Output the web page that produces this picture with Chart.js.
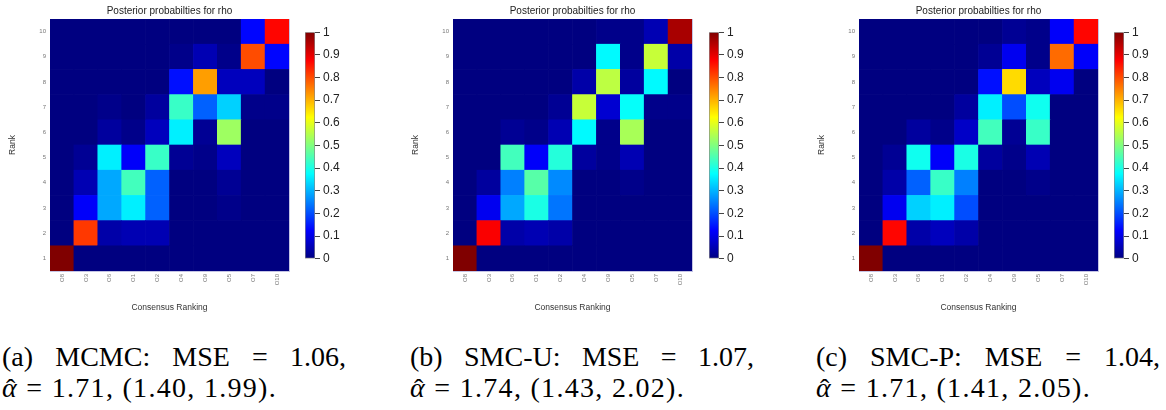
<!DOCTYPE html>
<html>
<head>
<meta charset="utf-8">
<script src="https://cdn.jsdelivr.net/npm/chart.js@4.4.1/dist/chart.umd.min.js"></script>
<style>
  body { margin: 0; background: #fff; width: 1166px; height: 410px; overflow: hidden; position: relative; }
  canvas { position: absolute; }
  .cap { position: absolute; top: 341px; width: 344px; font-family: 'Liberation Serif', serif; font-size: 28px; line-height: 31px; color: #000; }
  .cap .l1 { text-align: justify; text-align-last: justify; }
  .cap .l2 { white-space: nowrap; letter-spacing: 1.3px; }
  .ah { position: relative; display: inline-block; font-style: italic; }
  .ah .hat { position: absolute; left: 0.14em; top: 0.04em; font-style: normal; }
</style>
</head>
<body>
<script>
// ---- data ----
const cols = ['O8', 'O3', 'O6', 'O1', 'O2', 'O4', 'O9', 'O5', 'O7', 'O10'];
const rankTicks = [1, 2, 3, 4, 5, 6, 7, 8, 9, 10];
const cbTicks = [0, 0.1, 0.2, 0.3, 0.4, 0.5, 0.6, 0.7, 0.8, 0.9, 1];

// rows = rank 1..10, columns in the order of cols
const mcmc = [
  [1.00, 0, 0, 0, 0, 0, 0, 0, 0, 0],
  [0, 0.82, 0.04, 0.05, 0.05, 0, 0, 0, 0, 0],
  [0, 0.12, 0.29, 0.36, 0.22, 0, 0, 0.01, 0, 0],
  [0, 0.05, 0.29, 0.44, 0.22, 0, 0, 0.02, 0, 0],
  [0, 0.02, 0.36, 0.12, 0.43, 0.02, 0.01, 0.06, 0, 0],
  [0, 0, 0.03, 0.01, 0.06, 0.36, 0.02, 0.53, 0, 0],
  [0, 0, 0.01, 0, 0.03, 0.43, 0.22, 0.33, 0.01, 0.01],
  [0, 0, 0, 0, 0, 0.14, 0.72, 0.06, 0.06, 0],
  [0, 0, 0, 0, 0, 0.01, 0.05, 0.01, 0.80, 0.13],
  [0, 0, 0, 0, 0, 0, 0, 0, 0.13, 0.87]
];
const smcU = [
  [1.00, 0, 0, 0, 0, 0, 0, 0, 0, 0],
  [0, 0.88, 0.04, 0.05, 0.04, 0, 0, 0, 0, 0],
  [0, 0.11, 0.29, 0.40, 0.24, 0, 0, 0, 0, 0],
  [0, 0.03, 0.25, 0.46, 0.26, 0, 0, 0.01, 0, 0],
  [0, 0, 0.44, 0.12, 0.41, 0.03, 0.01, 0.05, 0, 0],
  [0, 0, 0.02, 0.01, 0.05, 0.37, 0.01, 0.54, 0, 0],
  [0, 0, 0, 0, 0.02, 0.57, 0.08, 0.38, 0.01, 0.01],
  [0, 0, 0, 0, 0, 0.04, 0.56, 0.03, 0.37, 0],
  [0, 0, 0, 0, 0, 0, 0.37, 0.01, 0.57, 0.04],
  [0, 0, 0, 0, 0, 0, 0.01, 0.01, 0.05, 0.96]
];
const smcP = [
  [1.00, 0, 0, 0, 0, 0, 0, 0, 0, 0],
  [0, 0.87, 0.04, 0.06, 0.04, 0, 0, 0, 0, 0],
  [0, 0.11, 0.33, 0.36, 0.20, 0, 0, 0, 0, 0],
  [0, 0.04, 0.22, 0.43, 0.25, 0, 0, 0.01, 0, 0],
  [0, 0.02, 0.39, 0.12, 0.40, 0.03, 0.01, 0.05, 0, 0],
  [0, 0, 0.03, 0.01, 0.07, 0.44, 0.02, 0.43, 0, 0],
  [0, 0, 0, 0, 0.03, 0.36, 0.20, 0.39, 0, 0],
  [0, 0, 0, 0, 0, 0.14, 0.66, 0.06, 0.11, 0],
  [0, 0, 0, 0, 0, 0.02, 0.11, 0.01, 0.77, 0.12],
  [0, 0, 0, 0, 0, 0, 0.02, 0.01, 0.12, 0.87]
];

const capLetters = ['a', 'b', 'c'];
const capMethods = ['MCMC', 'SMC-U', 'SMC-P'];
const capMse = ['1.06', '1.07', '1.04'];
const capAlpha = ['1.71', '1.74', '1.71'];
const capLow = ['1.40', '1.43', '1.41'];
const capHigh = ['1.99', '2.02', '2.05'];

// ---- layout ----
const plotLeft = [50, 453, 859];
const barLeft = [305, 709, 1114];
const capLeft = [2, 410, 816];
const PLOT_W = 239;
const frameCol = '#c4c4e4';

Chart.defaults.font.family = "'Liberation Sans', Arial, sans-serif";

function jet(v) {
  const c = x => Math.round(255 * Math.max(0, Math.min(1, x)));
  return `rgb(${c(1.5 - Math.abs(4 * v - 3))},${c(1.5 - Math.abs(4 * v - 2))},${c(1.5 - Math.abs(4 * v - 1))})`;
}

function jetGradient(chart) {
  const a = chart.chartArea;
  if (!a) return null;
  const g = chart.ctx.createLinearGradient(0, a.bottom, 0, a.top);
  for (let i = 0; i <= 8; i++) g.addColorStop(i / 8, jet(i / 8));
  return g;
}

function addCanvas(left, top, w, h) {
  const cv = document.createElement('canvas');
  cv.width = w; cv.height = h;
  cv.style.left = left + 'px'; cv.style.top = top + 'px';
  document.body.appendChild(cv);
  return cv;
}

function heatmap(cv, mat) {
  const datasets = rankTicks.map((r, i) => ({
    data: cols.map(() => [r - 0.5, r + 0.5]),
    backgroundColor: mat[i].map(jet),
    borderWidth: 0,
    grouped: false,
    barPercentage: 1,
    categoryPercentage: 1
  }));
  return new Chart(cv, {
    type: 'bar',
    data: { labels: cols, datasets },
    options: {
      responsive: false,
      animation: false,
      events: [],
      layout: { padding: { right: 8 } },
      plugins: {
        legend: { display: false },
        tooltip: { enabled: false },
        title: {
          display: true, text: 'Posterior probabilties for rho', fullSize: false,
          font: { size: 10, weight: 'normal' }, color: '#222', padding: { top: 5, bottom: 2 }
        }
      },
      scales: {
        x: {
          ticks: { font: { size: 6 }, color: '#777', minRotation: 90, maxRotation: 90, padding: 3, autoSkip: false },
          grid: { display: false, drawTicks: false },
          border: { color: frameCol },
          title: { display: true, text: 'Consensus Ranking', font: { size: 8.5 }, color: '#333', padding: { top: 0, bottom: 7 } },
          afterFit: s => { s.height = 49; }
        },
        y: {
          min: 0.5, max: 10.5,
          afterBuildTicks: s => { s.ticks = rankTicks.map(v => ({ value: v })); },
          ticks: { font: { size: 6 }, color: '#777', padding: 4 },
          grid: { display: false, drawTicks: false },
          border: { color: frameCol },
          title: { display: true, text: 'Rank', font: { size: 8.5 }, color: '#333', padding: { top: 8, bottom: 0 } },
          afterFit: s => { s.width = 50; }
        },
        x2: {
          type: 'category', labels: cols, position: 'top',
          ticks: { display: false }, grid: { display: false, drawTicks: false },
          border: { color: frameCol },
          afterFit: s => { s.height = 0; }
        },
        y2: {
          position: 'right', min: 0.5, max: 10.5,
          ticks: { display: false }, grid: { display: false, drawTicks: false },
          border: { color: frameCol },
          afterFit: s => { s.width = 0; }
        }
      }
    }
  });
}

function colorbar(cv) {
  return new Chart(cv, {
    type: 'bar',
    data: {
      labels: [''],
      datasets: [{
        data: [[0, 1]],
        backgroundColor: c => jetGradient(c.chart),
        borderWidth: 1, borderColor: '#888', borderSkipped: false,
        barPercentage: 1, categoryPercentage: 1
      }]
    },
    options: {
      responsive: false,
      animation: false,
      events: [],
      layout: { padding: { left: 10, top: 10, bottom: 10, right: 0 } },
      plugins: { legend: { display: false }, tooltip: { enabled: false } },
      scales: {
        x: { display: false },
        y: {
          position: 'right', min: 0, max: 1,
          afterBuildTicks: s => { s.ticks = cbTicks.map(v => ({ value: v })); },
          ticks: { font: { size: 12 }, color: '#222', padding: 3, callback: v => String(v) },
          grid: { drawOnChartArea: false, tickLength: 5, color: '#444' },
          border: { display: false },
          afterFit: s => { s.width = 60; }
        }
      }
    }
  });
}

const mats = [mcmc, smcU, smcP];
mats.forEach((m, i) => {
  heatmap(addCanvas(plotLeft[i] - 50, 0, 50 + PLOT_W + 8, 320), m);
  colorbar(addCanvas(barLeft[i] - 10, 22, 80, 247));

  const cap = document.createElement('div');
  cap.className = 'cap';
  cap.style.left = capLeft[i] + 'px';
  cap.innerHTML =
    `<div class="l1">(${capLetters[i]}) ${capMethods[i]}: MSE = ${capMse[i]},</div>` +
    `<div class="l2"><span class="ah">α<span class="hat">ˆ</span></span> = ${capAlpha[i]}, (${capLow[i]}, ${capHigh[i]}).</div>`;
  document.body.appendChild(cap);
});
</script>
</body>
</html>
